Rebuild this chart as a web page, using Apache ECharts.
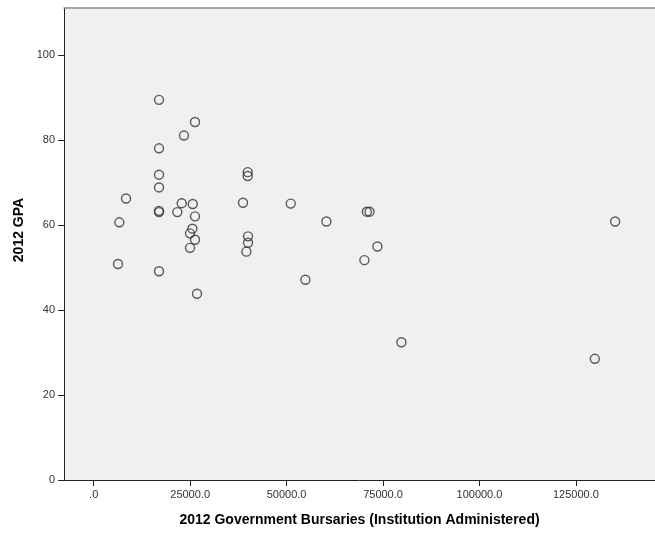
<!DOCTYPE html>
<html>
<head>
<meta charset="utf-8">
<script src="https://cdn.jsdelivr.net/npm/echarts@6/dist/echarts.min.js"></script>
<style>
html,body{margin:0;padding:0;background:#fff;overflow:hidden;}
#c{width:655px;height:534px;}
</style>
</head>
<body>
<div id="c"></div>
<script>
var bursaries = [16930, 26260, 23400, 16930, 16930, 16930, 8380, 22820, 25670, 16930, 16930, 21680, 26260, 6650, 25580, 24970, 26260, 24970, 6300, 16930, 26780, 38700, 39930, 39930, 40010, 40010, 39580, 51080, 54870, 60320, 70800, 71500, 73540, 70170, 79770, 129900, 135170];
var gpa = [89.4, 84.2, 81.0, 78.0, 71.8, 68.8, 66.2, 65.1, 64.9, 63.3, 63.0, 63.0, 62.0, 60.6, 59.1, 58.0, 56.5, 54.6, 50.8, 49.1, 43.8, 65.2, 72.4, 71.5, 57.3, 55.8, 53.7, 65.0, 47.1, 60.8, 63.1, 63.1, 54.9, 51.7, 32.4, 28.5, 60.8];
var xTicks = [0, 25000, 50000, 75000, 100000, 125000];
var yTicks = [0, 20, 40, 60, 80, 100];
var xTitle = '2012 Government Bursaries (Institution Administered)';
var yTitle = '2012 GPA';

var points = bursaries.map(function (x, i) { return [x, gpa[i]]; });
var font = '"Liberation Sans", Arial, sans-serif';
var chart = echarts.init(document.getElementById('c'), null, {renderer: 'canvas'});
chart.setOption({
  animation: false,
  backgroundColor: '#ffffff',
  grid: {left: 64, top: 8, right: 0, bottom: 54, show: true, backgroundColor: '#f0f0f0', borderWidth: 0},
  xAxis: [{
    type: 'value', min: -7700, max: 145500,
    name: xTitle, nameLocation: 'middle', nameGap: 33,
    nameTextStyle: {fontFamily: font, fontWeight: 'bold', fontSize: 14, color: '#000'},
    axisLine: {show: true, onZero: false, lineStyle: {color: '#222', width: 1}},
    axisTick: {show: true, customValues: xTicks, length: 6, lineStyle: {color: '#222'}},
    axisLabel: {customValues: xTicks, fontFamily: font, fontSize: 11, color: '#333', margin: 9,
      formatter: function (v) { return v === 0 ? '.0' : v.toFixed(1); }},
    splitLine: {show: false}
  }, {
    type: 'value', position: 'top', min: -7700, max: 145500,
    axisLine: {show: true, onZero: false, lineStyle: {color: '#8a8a8a', width: 1.5}},
    axisTick: {show: false}, axisLabel: {show: false}, splitLine: {show: false}
  }],
  yAxis: {
    type: 'value', min: 0, max: 111,
    name: yTitle, nameLocation: 'middle', nameGap: 38,
    nameTextStyle: {fontFamily: font, fontWeight: 'bold', fontSize: 14, color: '#000', padding: [0, 0, 0, 28]},
    axisLine: {show: true, onZero: false, lineStyle: {color: '#222', width: 1}},
    axisTick: {show: true, customValues: yTicks, length: 6, lineStyle: {color: '#222'}},
    axisLabel: {customValues: yTicks, fontFamily: font, fontSize: 11, color: '#333', margin: 9},
    splitLine: {show: false}
  },
  series: [{
    type: 'scatter',
    xAxisIndex: 0,
    data: points,
    symbol: 'circle',
    symbolSize: 9,
    itemStyle: {color: 'rgba(0,0,0,0)', borderColor: '#333', borderWidth: 1.4},
    emphasis: {disabled: true}
  }]
});
</script>
</body>
</html>
